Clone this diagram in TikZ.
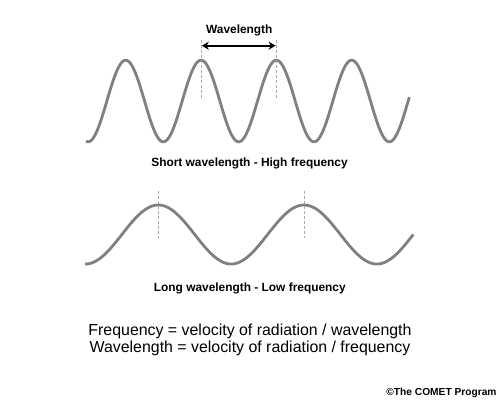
\documentclass[tikz,border=0pt]{standalone}
\usepackage{fontspec}
\setmainfont{Liberation Sans}
\usetikzlibrary{arrows.meta}
\definecolor{wavegray}{RGB}{128,128,128}
\definecolor{dashgray}{RGB}{170,170,170}
\tikzset{
  wave/.style={draw=wavegray, line width=2.8pt},
  guide/.style={draw=dashgray, line width=0.8pt, dash pattern=on 3pt off 2pt},
  lbl/.style={inner sep=0pt, font=\bfseries\fontsize{11.9}{14}\selectfont},
  formula/.style={inner sep=0pt, font=\fontsize{15.9}{18}\selectfont},
  wlarrow/.style={draw=black, line width=2pt, {Stealth[length=7pt,width=8pt]}-{Stealth[length=7pt,width=8pt]}}
}
\begin{document}
\begin{tikzpicture}[x=1pt,y=-1pt]
\useasboundingbox[fill=white] (0,0) rectangle (500,400);
% short wave (period 75.33 -> 4.7790 deg per unit)
\draw[wave] plot[domain=86:409.3, samples=300, smooth] (\x, {101 - 40.8*cos(4.7790*(\x-125.7))});
% long wave (period 145.7 -> 2.4708 deg per unit)
\draw[wave] plot[domain=85:413.3, samples=300, smooth] (\x, {234.5 - 29.5*cos(2.4708*(\x-158.3))});
% guides
\coordinate (ta1) at (201.0,40);
\coordinate (tb1) at (201.0,98);
\coordinate (ta2) at (276.4,40);
\coordinate (tb2) at (276.4,98);
\draw[guide] (ta1) -- (tb1);
\draw[guide] (ta2) -- (tb2);
\coordinate (la1) at (158.3,190.5);
\coordinate (lb1) at (158.3,237.5);
\coordinate (la2) at (304.0,190.5);
\coordinate (lb2) at (304.0,237.5);
\draw[guide] (la1) -- (lb1);
\draw[guide] (la2) -- (lb2);
% arrow
\coordinate (aL) at (201.8,45.7);
\coordinate (aR) at (275.6,45.7);
\draw[wlarrow] (aL) -- (aR);
\node[lbl] (wl) at (239.3,30.5) {Wavelength};
\node[lbl] (short) at (249.5,163.5) {Short wavelength - High frequency};
\node[lbl] (long) at (249.8,288.5) {Long wavelength - Low frequency};
\node[formula] (f1) at (250,331) {Frequency = velocity of radiation / wavelength};
\node[formula] (f2) at (250,348.5) {Wavelength = velocity of radiation / frequency};
\node[inner sep=0pt, font=\bfseries\fontsize{10.2}{12}\selectfont] (copy) at (441.5,392.5) {©The COMET Program};
\end{tikzpicture}
\end{document}
